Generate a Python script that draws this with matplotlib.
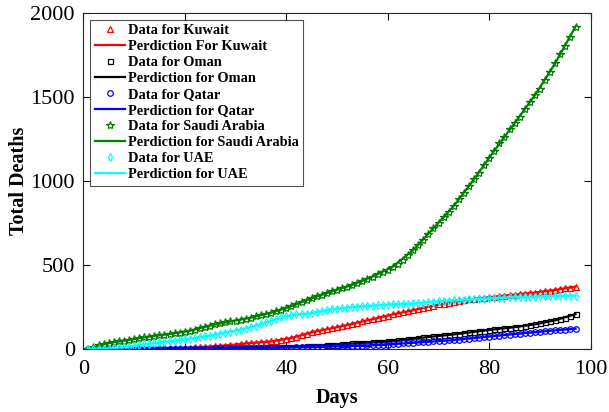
import numpy as np
import matplotlib
matplotlib.use('Agg')
from matplotlib import pyplot as plt

plt.rcParams['font.family'] = ['Liberation Serif', 'DejaVu Serif']

# cumulative deaths, one value per day (day 1 .. 97)
days = np.arange(1, 98)

kuwait = [1, 1, 1, 1, 1, 1, 1, 1, 1, 2, 2, 3, 3, 4, 5, 6, 7, 8, 9, 10,
          11, 12, 13, 15, 17, 19, 21, 23, 26, 29, 32, 35, 38, 40, 42, 44, 47, 50, 55, 61,
          68, 76, 85, 94, 102, 108, 114, 120, 126, 132, 138, 145, 152, 159, 166, 173, 180, 187, 194, 201,
          208, 215, 221, 227, 233, 240, 247, 254, 261, 267, 272, 277, 282, 287, 292, 297, 301, 305, 308, 311,
          314, 317, 320, 323, 326, 329, 332, 335, 338, 342, 346, 350, 354, 358, 363, 368, 373]

oman = [0, 0, 0, 0, 0, 0, 0, 0, 1, 1, 1, 1, 2, 2, 2, 2, 2, 2, 3, 3,
        3, 3, 4, 4, 4, 4, 5, 5, 6, 7, 8, 9, 9, 10, 10, 11, 12, 12, 13, 14,
        15, 16, 17, 18, 20, 21, 23, 25, 27, 29, 31, 33, 35, 37, 39, 40, 42, 44, 46, 48,
        50, 53, 56, 59, 63, 67, 71, 74, 77, 80, 83, 86, 89, 93, 97, 101, 104, 107, 111, 115,
        119, 122, 125, 128, 132, 136, 140, 144, 149, 154, 160, 166, 173, 180, 188, 198, 210]

qatar = [0, 0, 0, 0, 0, 0, 0, 0, 0, 0, 1, 1, 1, 1, 2, 2, 2, 3, 3, 3,
         4, 4, 4, 5, 5, 6, 6, 6, 7, 7, 7, 8, 8, 9, 9, 9, 10, 10, 10, 11,
         11, 12, 12, 13, 13, 14, 15, 16, 17, 18, 19, 20, 21, 22, 23, 24, 25, 26, 27, 29,
         31, 33, 35, 37, 39, 41, 43, 45, 47, 49, 51, 53, 55, 58, 61, 64, 67, 70, 73, 76,
         79, 82, 85, 88, 91, 94, 97, 100, 102, 105, 108, 110, 113, 115, 118, 120, 123]

saudi = [5, 15, 24, 31, 37, 42, 47, 52, 57, 62, 67, 72, 76, 80, 84, 88, 92, 96, 100, 105,
         111, 118, 125, 133, 142, 148, 154, 160, 166, 171, 176, 182, 189, 196, 203, 210, 218, 227, 236, 246,
         257, 268, 280, 292, 304, 315, 326, 336, 345, 354, 364, 373, 384, 396, 408, 420, 433, 447, 460, 475,
         492, 510, 530, 560, 590, 620, 650, 685, 720, 752, 787, 820, 853, 893, 932, 972, 1012, 1051, 1095, 1140,
         1182, 1226, 1265, 1309, 1345, 1385, 1428, 1474, 1512, 1551, 1601, 1650, 1702, 1756, 1805, 1861, 1920]

uae = [2, 2, 3, 4, 5, 6, 9, 12, 16, 20, 25, 30, 34, 38, 41, 44, 47, 50, 54, 60,
       64, 69, 73, 77, 82, 88, 94, 100, 106, 112, 118, 124, 132, 140, 150, 160, 170, 180, 190, 198,
       204, 208, 211, 213, 216, 222, 228, 233, 238, 242, 246, 249, 252, 254, 256, 258, 260, 262, 264, 266,
       268, 270, 271, 272, 273, 275, 278, 281, 284, 286, 288, 290, 292, 294, 296, 298, 299, 301, 302, 304,
       305, 306, 307, 309, 310, 312, 313, 313, 314, 315, 316, 316, 317, 318, 318, 319, 320]

# fitted model curves, every 4th day
pred_days = [1, 5, 9, 13, 17, 21, 25, 29, 33, 37, 41, 45, 49, 53, 57, 61, 65, 69, 73, 77, 81, 85, 89, 93, 97]
kuwait_pred = [1, 1, 1, 3, 7, 11, 17, 26, 38, 47, 68, 102, 126, 152, 180, 208, 233, 261, 282, 301, 314, 326, 338, 354, 373]
oman_pred = [0, 0, 1, 2, 2, 3, 4, 6, 9, 12, 15, 20, 27, 35, 42, 50, 63, 77, 89, 104, 119, 132, 149, 173, 210]
qatar_pred = [0, 0, 0, 1, 2, 4, 5, 7, 8, 9, 11, 13, 17, 21, 25, 31, 39, 47, 55, 67, 79, 91, 102, 113, 123]
saudi_pred = [5, 37, 57, 76, 92, 111, 142, 166, 189, 218, 257, 304, 345, 384, 433, 492, 590, 720, 853, 1012, 1182, 1345, 1512, 1702, 1920]
uae_pred = [2, 5, 16, 34, 47, 64, 82, 106, 132, 170, 204, 216, 238, 252, 260, 268, 273, 284, 292, 299, 305, 310, 314, 317, 320]

green = '#008000'
series = [
    ('Kuwait', 'For', kuwait, kuwait_pred, 'r', '^', 4.2),
    ('Oman', 'for', oman, oman_pred, 'k', 's', 3.6),
    ('Qatar', 'for', qatar, qatar_pred, 'b', 'o', 4.0),
    ('Saudi Arabia', 'for', saudi, saudi_pred, green, '*', 6.0),
    ('UAE', 'for', uae, uae_pred, 'cyan', 'd', 4.2),
]

fig = plt.figure(figsize=(6.09, 4.12), dpi=100)
ax = fig.add_axes([0.1368, 0.152, 0.8332, 0.816])

for name, word, data, pred, col, mk, ms in series:
    ax.plot(days, data, linestyle='none', marker=mk, markersize=ms,
            markerfacecolor='none', markeredgecolor=col, markeredgewidth=0.9,
            label='Data for ' + name)
    ax.plot(pred_days, pred, '-', color=col, linewidth=1.6,
            label='Perdiction ' + word + ' ' + name)

ax.set_xlim(0, 100)
ax.set_ylim(0, 2000)
ax.set_xticks([0, 20, 40, 60, 80, 100])
ax.set_yticks([0, 500, 1000, 1500, 2000])
ax.tick_params(direction='in', top=True, right=True, length=5, width=0.8,
               labelsize=16)
ax.tick_params(axis='x', pad=8)
ax.tick_params(axis='y', pad=6)
for s in ax.spines.values():
    s.set_linewidth(0.8)
    s.set_color('#262626')

ax.set_xlabel('Days', fontsize=14.5, fontweight='bold', labelpad=6)
ax.set_ylabel('Total Deaths', fontsize=14.5, fontweight='bold', labelpad=1)

leg = ax.legend(loc='upper left', bbox_to_anchor=(0.014, 0.98),
                prop={'weight': 'bold', 'size': 10.4}, frameon=True, fancybox=False,
                edgecolor='#262626', handlelength=2.1, handletextpad=0.2,
                labelspacing=0.2, borderpad=0.3, borderaxespad=0)
leg.get_frame().set_linewidth(0.8)

fig.savefig('out.png', dpi=100)
